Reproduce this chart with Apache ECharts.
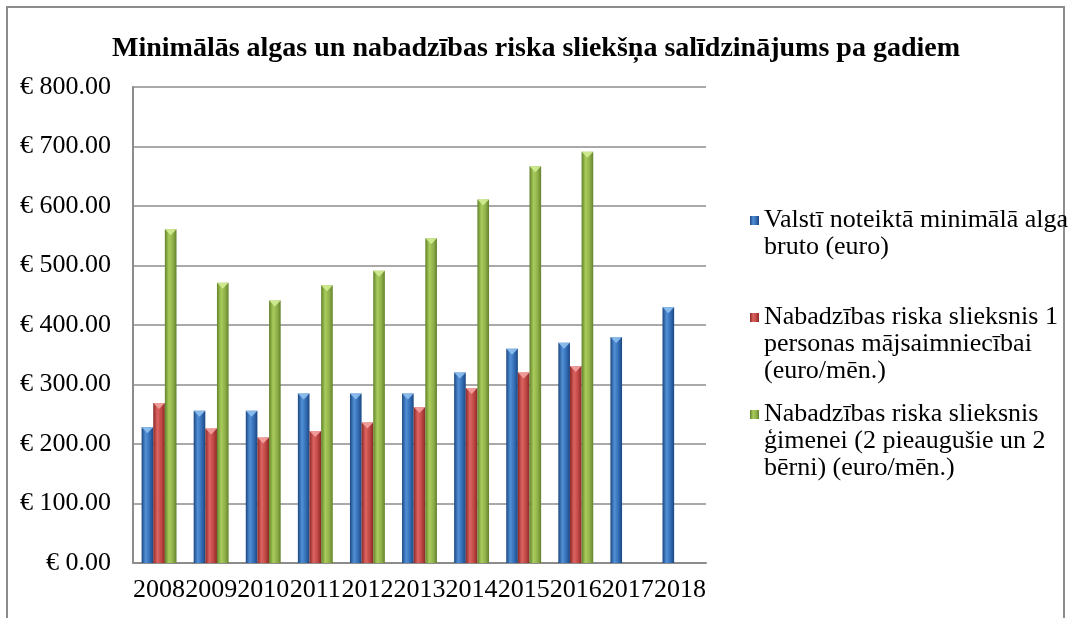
<!DOCTYPE html>
<html>
<head>
<meta charset="utf-8">
<script src="https://cdn.jsdelivr.net/npm/echarts@6/dist/echarts.min.js"></script>
<style>
  html, body { margin: 0; padding: 0; background: #fff; }
  #chart { width: 1072px; height: 618px; }
</style>
</head>
<body>
<div id="chart"></div>
<script>
// dati nolasīti no attēla
var years = ['2008', '2009', '2010', '2011', '2012', '2013', '2014', '2015', '2016', '2017', '2018'];
var minAlga = [228, 256, 256, 285, 285, 285, 320, 360, 370, 380, 430];
var slieksnis1 = [269, 226, 211, 222, 236, 262, 294, 320, 331, null, null];
var slieksnisGim = [561, 471, 441, 467, 491, 546, 611, 667, 691, null, null];
var yTicks = { min: 0, max: 800, step: 100 };

var names = [
    'Valstī noteiktā minimālā alga\nbruto (euro)\n ',
    'Nabadzības riska slieksnis 1\npersonas mājsaimniecībai\n(euro/mēn.)',
    'Nabadzības riska slieksnis\nģimenei (2 pieaugušie un 2\nbērni) (euro/mēn.)'
];

var serif = '"Liberation Serif", "Times New Roman", serif';

function grad(dark, light, mid) {
    return new echarts.graphic.LinearGradient(0, 0, 1, 0, [
        { offset: 0, color: dark },
        { offset: 0.35, color: light },
        { offset: 0.7, color: mid },
        { offset: 1, color: dark }
    ]);
}

var colors = [
    grad('#1b4782', '#5290d6', '#336cb4'),
    grad('#8a2826', '#dc6461', '#bf4744'),
    grad('#62822a', '#a9cc5c', '#8fb04a')
];
var capColors = ['#8fc0f0', '#f3a2a0', '#d2ec93'];

var seriesData = [minAlga, slieksnis1, slieksnisGim];
var series = [];
seriesData.forEach(function (arr, i) {
    series.push({
        name: names[i],
        type: 'bar',
        data: arr,
        barGap: 0,
        barCategoryGap: '33%',
        itemStyle: { color: colors[i] },
        emphasis: { disabled: true }
    });
});
// piramīdas virsotnes stabiņu galos
seriesData.forEach(function (arr, i) {
    series.push({
        name: 'cap' + i,
        type: 'pictorialBar',
        data: arr,
        barGap: 0,
        barCategoryGap: '33%',
        symbol: 'triangle',
        symbolRotate: 180,
        symbolPosition: 'end',
        symbolSize: ['100%', 6],
        symbolOffset: [0, 0],
        itemStyle: { color: capColors[i], opacity: 0.9 },
        emphasis: { disabled: true },
        silent: true,
        z: 3
    });
});

var iconPath = 'path://M0,0M9,81M0,9h9v9h-9z';

var myChart = echarts.init(document.getElementById('chart'));
var option = {
    backgroundColor: '#fff',
    animation: false,
    title: {
        text: 'Minimālās algas un nabadzības riska sliekšņa salīdzinājums pa gadiem',
        left: 'center',
        top: 30,
        textStyle: {
            fontFamily: serif,
            fontSize: 28,
            fontWeight: 'bold',
            color: '#000'
        }
    },
    graphic: [{
        type: 'rect',
        shape: { x: 7, y: 7, width: 1057, height: 700 },
        style: { fill: 'none', stroke: '#8c8c8c', lineWidth: 2 },
        silent: true
    }],
    legend: {
        orient: 'vertical',
        left: 745,
        top: 202,
        itemWidth: 9,
        itemHeight: 81,
        itemGap: 16,
        data: names.map(function (n) { return { name: n, icon: iconPath }; }),
        textStyle: {
            fontFamily: serif,
            fontSize: 26,
            lineHeight: 27,
            color: '#000'
        },
        selectedMode: false
    },
    grid: {
        left: 133,
        right: 366,
        top: 87,
        bottom: 55,
        containLabel: false
    },
    xAxis: {
        type: 'category',
        data: years,
        axisLine: { lineStyle: { color: '#8c8c8c', width: 2 } },
        axisTick: { show: false },
        axisLabel: {
            interval: 0,
            margin: 14,
            fontFamily: serif,
            fontSize: 26,
            color: '#000'
        }
    },
    yAxis: {
        type: 'value',
        min: yTicks.min,
        max: yTicks.max,
        interval: yTicks.step,
        axisLine: { show: true, lineStyle: { color: '#8c8c8c', width: 2 } },
        axisTick: { show: false },
        splitLine: { lineStyle: { color: '#8c8c8c', width: 1.5 } },
        axisLabel: {
            margin: 22,
            fontFamily: serif,
            fontSize: 26,
            color: '#000',
            formatter: function (v) { return '€ ' + v.toFixed(2); }
        }
    },
    series: series
};
myChart.setOption(option);
</script>
</body>
</html>
